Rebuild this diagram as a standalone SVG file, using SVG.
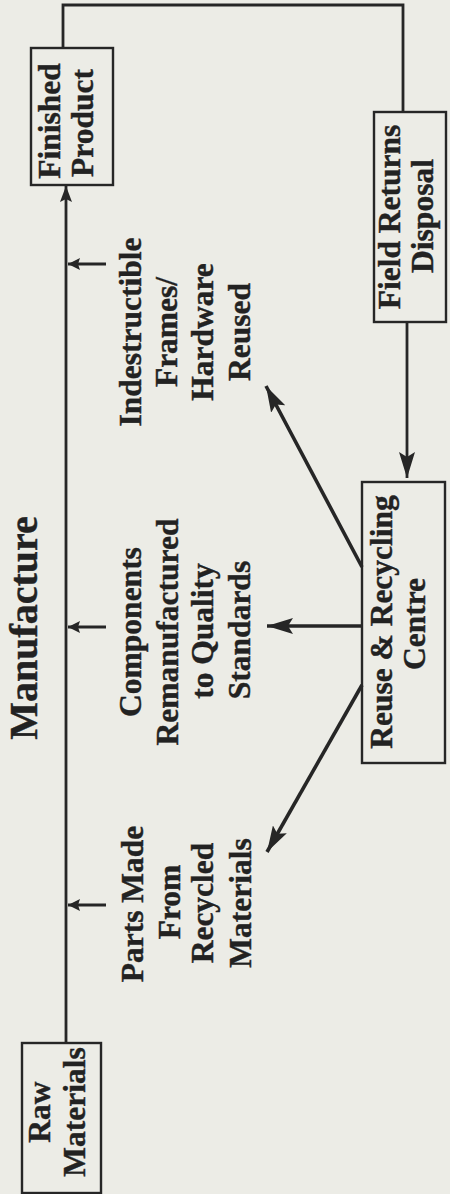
<svg xmlns="http://www.w3.org/2000/svg" width="450" height="1194" viewBox="0 0 450 1194">
  <style>
    .bg { fill: #ecece6; }
    .box { fill: none; stroke: #262626; stroke-width: 2.4; }
    .wire { fill: none; stroke: #262626; stroke-width: 2.8; }
    .thick { fill: none; stroke: #262626; stroke-width: 3.6; }
    .lbl { font-family: "Liberation Serif", "Times New Roman", serif; font-weight: bold; font-size: 31.5px; fill: #222; stroke: #222; stroke-width: 0.4; text-anchor: middle; }
    .title { font-family: "Liberation Serif", "Times New Roman", serif; font-weight: bold; font-size: 40px; fill: #222; stroke: #222; stroke-width: 0.4; text-anchor: middle; }
  </style>
  <defs>
    <marker id="head-lg" markerUnits="userSpaceOnUse" markerWidth="28" markerHeight="16" refX="26" refY="8" orient="auto">
      <path d="M0,0 L26,8 L0,16 L5,8 Z" fill="#262626"/>
    </marker>
    <marker id="head" markerUnits="userSpaceOnUse" markerWidth="18" markerHeight="12" refX="16" refY="6" orient="auto">
      <path d="M0,0 L16,6 L0,12 L3,6 Z" fill="#262626"/>
    </marker>
    <marker id="head-sm" markerUnits="userSpaceOnUse" markerWidth="14" markerHeight="12" refX="12" refY="6" orient="auto">
      <path d="M0,0 L12,6 L0,12 L2,6 Z" fill="#262626"/>
    </marker>
  </defs>

  <rect class="bg" x="0" y="0" width="450" height="1194"/>

  <!-- connectors -->
  <g id="connectors">
    <!-- manufacturing line: raw materials up to finished product -->
    <line class="wire" x1="66" y1="1043" x2="66" y2="186" marker-end="url(#head)"/>
    <!-- feeds into the manufacturing line -->
    <line class="wire" x1="106" y1="264" x2="68" y2="264" marker-end="url(#head-sm)"/>
    <line class="wire" x1="106" y1="627" x2="68" y2="627" marker-end="url(#head-sm)"/>
    <line class="wire" x1="106" y1="905" x2="68" y2="905" marker-end="url(#head-sm)"/>
    <!-- product out to the field -->
    <polyline class="wire" points="63,48 63,5 403,5 403,112"/>
    <!-- field returns into the recycling centre -->
    <line class="wire" x1="407" y1="322" x2="407" y2="478" marker-end="url(#head-lg)"/>
    <!-- recycling centre outputs -->
    <line class="thick" x1="362" y1="567" x2="266" y2="386" marker-end="url(#head-lg)"/>
    <line class="thick" x1="362" y1="626" x2="267" y2="626" marker-end="url(#head-lg)"/>
    <line class="thick" x1="362" y1="685" x2="267" y2="852" marker-end="url(#head-lg)"/>
  </g>

  <g transform="rotate(-90)">
    <text id="title" class="title" x="-628" y="37">Manufacture</text>
  </g>

  <g id="raw-materials">
    <rect class="box" x="22" y="1043" width="79" height="150"/>
    <g transform="rotate(-90)">
      <text class="lbl" x="-1112" y="50">Raw</text>
      <text class="lbl" x="-1112" y="85">Materials</text>
    </g>
  </g>

  <g id="finished-product">
    <rect class="box" x="31" y="48" width="82" height="137"/>
    <g transform="rotate(-90)">
      <text class="lbl" x="-121" y="60">Finished</text>
      <text class="lbl" x="-123" y="93">Product</text>
    </g>
  </g>

  <g id="field-returns">
    <rect class="box" x="374" y="112" width="72" height="210"/>
    <g transform="rotate(-90)">
      <text class="lbl" x="-217" y="400">Field Returns</text>
      <text class="lbl" x="-216" y="433">Disposal</text>
    </g>
  </g>

  <g id="recycling-centre">
    <rect class="box" x="362" y="482" width="83" height="281"/>
    <g transform="rotate(-90)">
      <text class="lbl" x="-622" y="392">Reuse &amp; Recycling</text>
      <text class="lbl" x="-624" y="425">Centre</text>
    </g>
  </g>

  <g id="frames-reused">
    <g transform="rotate(-90)">
      <text class="lbl" x="-332" y="141">Indestructible</text>
      <text class="lbl" x="-332" y="177">Frames/</text>
      <text class="lbl" x="-332" y="213">Hardware</text>
      <text class="lbl" x="-332" y="250">Reused</text>
    </g>
  </g>

  <g id="components-remanufactured">
    <g transform="rotate(-90)">
      <text class="lbl" x="-632" y="141">Components</text>
      <text class="lbl" x="-632" y="178">Remanufactured</text>
      <text class="lbl" x="-631" y="213">to Quality</text>
      <text class="lbl" x="-630" y="250">Standards</text>
    </g>
  </g>

  <g id="recycled-parts">
    <g transform="rotate(-90)">
      <text class="lbl" x="-904" y="143">Parts Made</text>
      <text class="lbl" x="-902" y="180">From</text>
      <text class="lbl" x="-903" y="213">Recycled</text>
      <text class="lbl" x="-903" y="251">Materials</text>
    </g>
  </g>
</svg>
